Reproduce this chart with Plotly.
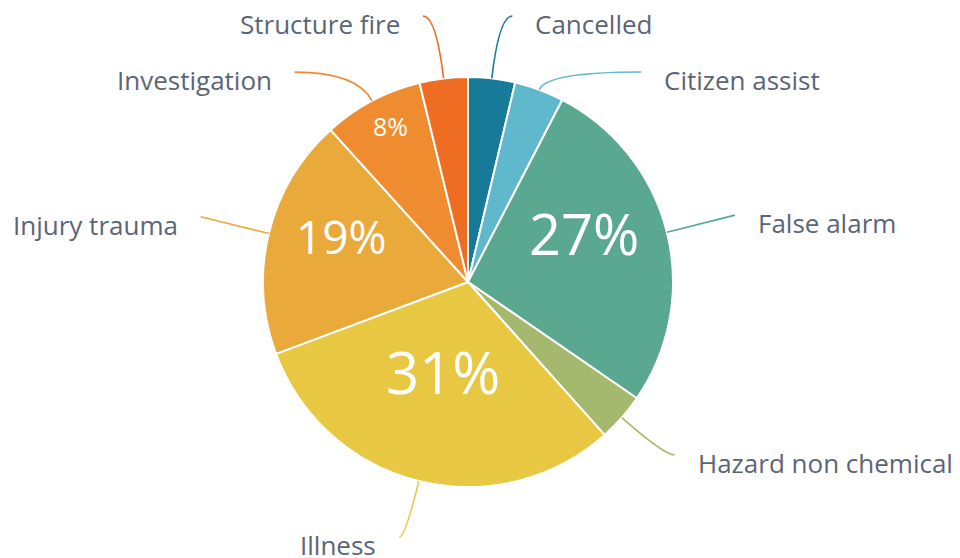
import math
import plotly.graph_objects as go

# ---------------- data ----------------
categories = ["Cancelled", "Citizen assist", "False alarm", "Hazard non chemical",
              "Illness", "Injury trauma", "Investigation", "Structure fire"]
values = [3.7, 3.9, 27.0, 3.8, 30.9, 19.0, 7.9, 3.8]
colors = ["#167a98", "#60b8cc", "#5ba891", "#a4b96d",
          "#e8c843", "#eaa93b", "#ef8c2f", "#ef6d23"]

# ---------------- styling / layout constants ----------------
OFF = 8                             # page body margin
W, H = 960 - OFF, 558 - OFF         # figure size
CX, CY, R = 468, 282, 205           # pie centre & radius in window px
LABEL_R, LABEL_DY = 265.3, -2.5     # natural label circle (for y)
ELL_A, ELL_B, ELL_DY = 275, 266.5, -3   # ellipse used for label x position
MIN_GAP = 56                        # min vertical gap between labels
TOP_LIMIT = 10
TEXT_PAD = 21
LABEL_FONT = dict(family="Open Sans", size=26, color="#5b6577")
# inside percentage labels: size, radius, x/y shift (px)
inside_style = {
    "False alarm": (56, 120, 0, -20),
    "Illness": (58, 92, -3, 0),
    "Injury trauma": (46, 130, 0, -15),
    "Investigation": (25, 172, 3, -4),
}

def px2paper(x, y):
    return (x - OFF) / W, 1 - (y - OFF) / H

total = sum(values)
cum = 0
mids = []
for v in values:
    mids.append((cum + v / 2) / total * 360)
    cum += v

fig = go.Figure(go.Pie(
    labels=categories, values=values, sort=False, direction="clockwise",
    rotation=0, textinfo="none", hoverinfo="label+percent",
    marker=dict(colors=colors, line=dict(color="white", width=2)),
    domain=dict(x=[(CX - R - OFF) / W, (CX + R - OFF) / W],
                y=[1 - (CY + R - OFF) / H, 1 - (CY - R - OFF) / H]),
    showlegend=False,
))

# ---- outside label positions with simple collision avoidance ----
right = [i for i, a in enumerate(mids) if a < 180]
left = [i for i, a in enumerate(mids) if a >= 180]
ends = {}
for side in (right, left):
    ys = {i: CY + LABEL_DY - LABEL_R * math.cos(math.radians(mids[i])) for i in side}
    order = sorted(side, key=lambda i: ys[i])
    prev = None
    for i in order:
        y = max(ys[i], TOP_LIMIT)
        if prev is not None:
            y = max(y, prev + MIN_GAP)
        ys[i] = y
        prev = y
    for i in side:
        dy = ys[i] - (CY + ELL_DY)
        frac = max(1 - (dy / ELL_B) ** 2, 0)
        dx = ELL_A * math.sqrt(frac)
        sign = 1 if mids[i] < 180 else -1
        ends[i] = (CX + sign * dx, ys[i])

shapes = []
annotations = []
for i, name in enumerate(categories):
    a = math.radians(mids[i])
    d = (math.sin(a), -math.cos(a))
    sx, sy = CX + R * d[0], CY + R * d[1]
    ex, ey = ends[i]
    sign = 1 if mids[i] < 180 else -1
    t = (ey - sy) / d[1] if abs(d[1]) > 1e-6 else -1
    cx_ = sx + t * d[0]
    if t <= 0 or (cx_ - ex) * sign > 0:
        dist = math.hypot(ex - sx, ey - sy) * 0.4
        ctrl = (sx + d[0] * dist, sy + d[1] * dist)
    else:
        ctrl = (cx_, ey)
    p0 = px2paper(sx, sy)
    p1 = px2paper(*ctrl)
    p2 = px2paper(ex, ey)
    shapes.append(dict(
        type="path", xref="paper", yref="paper",
        path=f"M {p0[0]},{p0[1]} Q {p1[0]},{p1[1]} {p2[0]},{p2[1]}",
        line=dict(color=colors[i], width=1.6)))
    tx, ty = px2paper(ex + sign * TEXT_PAD, ey + 8)
    annotations.append(dict(
        x=tx, y=ty, xref="paper", yref="paper", text=name, showarrow=False,
        xanchor="left" if sign > 0 else "right", yanchor="middle",
        font=LABEL_FONT))
    if name in inside_style:
        size, rr, xs, ys_ = inside_style[name]
        pct = round(values[i] / total * 100)
        px_, py_ = px2paper(CX + rr * d[0] + xs, CY + rr * d[1] + ys_)
        annotations.append(dict(
            x=px_, y=py_, xref="paper", yref="paper", text=f"{pct}%",
            showarrow=False, xanchor="center", yanchor="middle",
            font=dict(family="Open Sans", size=size, color="white")))

fig.update_layout(
    width=W, height=H, margin=dict(l=0, r=0, t=0, b=0),
    paper_bgcolor="white", plot_bgcolor="white",
    shapes=shapes, annotations=annotations,
)
fig.write_html("out.html")
